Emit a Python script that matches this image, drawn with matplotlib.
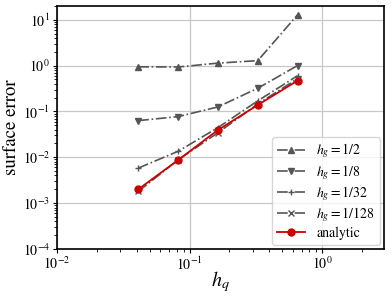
import numpy as np
import matplotlib
matplotlib.use("Agg")
import matplotlib.pyplot as plt

plt.rcParams['font.family'] = ['STIXGeneral', 'DejaVu Serif']
plt.rcParams['mathtext.fontset'] = 'stix'

# mesh sizes
hq = [0.041, 0.082, 0.163, 0.327, 0.653]

# surface errors per h_g
err_2 = [0.94, 0.93, 1.13, 1.28, 12.8]
err_8 = [0.063, 0.077, 0.125, 0.32, 1.0]
err_32 = [0.0058, 0.0135, 0.044, 0.17, 0.6]
err_128 = [0.0018, 0.0088, 0.034, 0.145, 0.52]
analytic = [0.002, 0.0087, 0.039, 0.138, 0.47]

grey = '#555555'

fig = plt.figure(figsize=(3.91, 2.96), dpi=100)
ax = fig.add_axes([0.146, 0.159, 0.836, 0.821])

ax.loglog(hq, err_2, '-.', marker='^', color=grey, lw=1.2, ms=5, label=r'$h_g=1/2$')
ax.loglog(hq, err_8, '-.', marker='v', color=grey, lw=1.2, ms=5, label=r'$h_g=1/8$')
ax.loglog(hq, err_32, '-.', marker='+', color=grey, lw=1.2, ms=5, label=r'$h_g=1/32$')
ax.loglog(hq, err_128, '-.', marker='x', color=grey, lw=1.2, ms=4, label=r'$h_g=1/128$')
ax.loglog(hq, analytic, '-', marker='o', color='#cc0000', lw=1.3, ms=5, label='analytic')

ax.set_xlim(1e-2, 2.93)
ax.set_ylim(1e-4, 20)
ax.grid(True, which='major', color='#c8c8c8', lw=0.9)
ax.set_axisbelow(True)
ax.tick_params(which='major', length=3, pad=2, labelsize=10)
ax.tick_params(which='minor', length=2)
for s in ax.spines.values():
    s.set_linewidth(1.2)

ax.set_xlabel(r'$h_q$', fontsize=14.5, labelpad=-3)
ax.set_ylabel('surface error', fontsize=13.5, labelpad=2)

ax.legend(loc='lower right', fontsize=10, handlelength=2.0, labelspacing=0.18,
          borderpad=0.35, handletextpad=0.8, borderaxespad=0.3, framealpha=0.8)

fig.savefig('out.png', dpi=100)
